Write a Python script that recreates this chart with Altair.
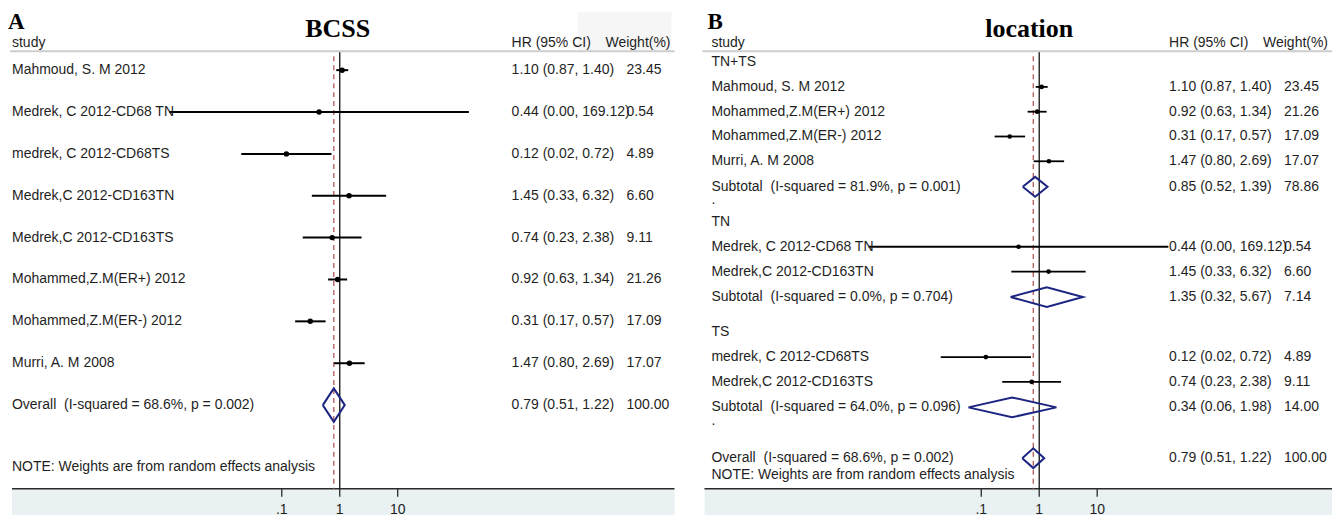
import altair as alt
import pandas as pd

# ---- study-level hazard ratios (BCSS) ----
studies = [
    "Mahmoud, S. M 2012",
    "Medrek, C 2012-CD68 TN",
    "medrek, C 2012-CD68TS",
    "Medrek,C 2012-CD163TN",
    "Medrek,C 2012-CD163TS",
    "Mohammed,Z.M(ER+) 2012",
    "Mohammed,Z.M(ER-) 2012",
    "Murri, A. M 2008",
]
hr = [1.10, 0.44, 0.12, 1.45, 0.74, 0.92, 0.31, 1.47]
ci_low = [0.87, 0.00114, 0.02, 0.33, 0.23, 0.63, 0.17, 0.80]
ci_high = [1.40, 169.12, 0.72, 6.32, 2.38, 1.34, 0.57, 2.69]
weight = [23.45, 0.54, 4.89, 6.60, 9.11, 21.26, 17.09, 17.07]

# ---- pooled estimate ----
overall_hr, overall_low, overall_high, overall_weight = 0.79, 0.51, 1.22, 100.00
overall_i2, overall_p = 68.6, 0.002

# ---- subgroups by location ----
group_names = ["TN+TS", "TN", "TS"]
group_members = [[0, 5, 6, 7], [1, 3], [2, 4]]
sub_hr = [0.85, 1.35, 0.34]
sub_low = [0.52, 0.32, 0.06]
sub_high = [1.39, 5.67, 1.98]
sub_weight = [78.86, 7.14, 14.00]
sub_i2 = [81.9, 0.0, 64.0]
sub_p = [0.001, 0.704, 0.096]

axis_ticks = [0.1, 1, 10]
axis_labels = [".1", "1", "10"]

FONT = "Liberation Sans"
SERIF = "Liberation Serif"
INK = "#1f1f1f"
NAVY = "#1c2582"
DASH = "#b45858"
BAND = "#e9f1f3"
NB = "\u00a0"
H = 515


def ci_text(e, l, u):
    return f"{e:.2f} ({l:.2f}, {u:.2f})"


def het_text(name, i2, p):
    return f"{name}{NB}{NB}(I-squared = {i2:.1f}%, p = {p:.3f})"


def row_entry(r, label, kind, e=None, l=None, u=None, w=None):
    return dict(row=r, label=label, kind=kind, hr=e, lo=l, hi=u,
                est=ci_text(e, l, u) if e is not None else "",
                wt=f"{w:.2f}" if w is not None else "")


# panel A: one row per study, then the overall line
rows_a = [row_entry(i, studies[i], "study", hr[i], ci_low[i], ci_high[i], weight[i])
          for i in range(len(studies))]
rows_a.append(row_entry(len(studies), het_text("Overall", overall_i2, overall_p), "pooled",
                        overall_hr, overall_low, overall_high, overall_weight))

# panel B: grouped rows with headers, subtotals and spacer rows
rows_b = []
pos = 0.0
for g, name in enumerate(group_names):
    if g > 0:
        pos += 1.42
    rows_b.append(row_entry(pos, name, "header"))
    for i in group_members[g]:
        pos += 1.0
        rows_b.append(row_entry(pos, studies[i], "study", hr[i], ci_low[i], ci_high[i], weight[i]))
    pos += 1.03
    rows_b.append(row_entry(pos, het_text("Subtotal", sub_i2[g], sub_p[g]), "pooled",
                            sub_hr[g], sub_low[g], sub_high[g], sub_weight[g]))
    if g != 1:
        rows_b.append(row_entry(pos + 0.55, ".", "spacer"))
pos += 2.05
rows_b.append(row_entry(pos, het_text("Overall", overall_i2, overall_p), "pooled",
                        overall_hr, overall_low, overall_high, overall_weight))


def diamonds(rows, half):
    pts = []
    for k, r in enumerate(rows):
        if r["kind"] != "pooled":
            continue
        verts = [(r["lo"], r["row"]), (r["hr"], r["row"] - half), (r["hi"], r["row"]),
                 (r["hr"], r["row"] + half), (r["lo"], r["row"])]
        for o, (vx, vy) in enumerate(verts):
            pts.append(dict(id=k, ord=o, x=vx, y=vy))
    return pd.DataFrame(pts)


def panel(rows, *, width, letter, title, title_x, fs, row0_px, row_px,
          val_x, wt_x, wt_head_x, note_y, dot, ci_w, band_x0, shade=None):
    null_px, per_dec = 340.0, 58.0
    xs = alt.Scale(type="log", domain=[10 ** (-null_px / per_dec), 10 ** ((width - null_px) / per_dec)],
                   nice=False)
    ys = alt.Scale(domain=[-row0_px / row_px, (H - row0_px) / row_px], reverse=True,
                   nice=False, zero=False)
    df = pd.DataFrame(rows)
    st = df[df.kind == "study"]
    dia = diamonds(rows, 0.4)
    Y = alt.Y("row:Q", scale=ys, axis=None)

    one = pd.DataFrame({"k": [0]})
    base = alt.Chart(one)

    layers = []
    if shade is not None:
        layers.append(base.mark_rect(color="#f6f6f6").encode(
            x=alt.value(shade[0]), x2=alt.value(shade[1]), y=alt.value(12), y2=alt.value(50)))
    band = base.mark_rect(color=BAND).encode(
        x=alt.value(band_x0), x2=alt.value(width), y=alt.value(489), y2=alt.value(H + 5))
    head_rule = base.mark_rule(color="#cdcdcd", strokeWidth=2).encode(
        x=alt.value(band_x0 - 2), x2=alt.value(width), y=alt.value(51))
    axis_line = base.mark_rule(color="#2a2a2a", strokeWidth=1.5).encode(
        x=alt.value(band_x0), x2=alt.value(width), y=alt.value(489))

    null_line = alt.Chart(pd.DataFrame({"v": [1.0]})).mark_rule(
        color="#111111", strokeWidth=1.3).encode(
        x=alt.X("v:Q", scale=xs, axis=None), y=alt.value(52), y2=alt.value(489))
    est_line = alt.Chart(pd.DataFrame({"v": [overall_hr]})).mark_rule(
        color=DASH, strokeWidth=1.3, strokeDash=[5, 4]).encode(
        x=alt.X("v:Q", scale=xs, axis=None), y=alt.value(56), y2=alt.value(489))

    tdf = pd.DataFrame({"v": axis_ticks, "t": axis_labels})
    ticks = alt.Chart(tdf).mark_rule(color="#2a2a2a", strokeWidth=1.3).encode(
        x=alt.X("v:Q", scale=xs, axis=None), y=alt.value(489), y2=alt.value(497))
    tick_txt = alt.Chart(tdf).mark_text(font=FONT, fontSize=14, color=INK, baseline="top").encode(
        x=alt.X("v:Q", scale=xs, axis=None), y=alt.value(503), text="t:N")

    ci = alt.Chart(st).mark_rule(color="#000000", strokeWidth=ci_w).encode(
        x=alt.X("lo:Q", scale=xs, axis=None), x2="hi:Q", y=Y)
    pts = alt.Chart(st).mark_circle(color="#000000", opacity=1, size=dot).encode(
        x=alt.X("hr:Q", scale=xs, axis=None), y=Y)
    dia_line = alt.Chart(dia).mark_line(color=NAVY, strokeWidth=2, strokeJoin="miter").encode(
        x=alt.X("x:Q", scale=xs, axis=None), y=alt.Y("y:Q", scale=ys, axis=None),
        detail="id:N", order="ord:Q")

    def col(field, xpos):
        return alt.Chart(df).mark_text(font=FONT, fontSize=fs, color=INK, align="left",
                                       baseline="middle").encode(
            x=alt.value(xpos), y=Y, text=f"{field}:N")

    hdr = [("study", 12), ("HR (95% CI)", val_x), ("Weight(%)", wt_head_x)]
    headers = [base.mark_text(font=FONT, fontSize=fs, color=INK, align="left",
                              baseline="middle", text=t).encode(x=alt.value(xx), y=alt.value(43))
               for t, xx in hdr]

    letter_mk = base.mark_text(font=SERIF, fontSize=23, fontWeight="bold", color="#000000",
                               align="left", baseline="alphabetic", text=letter).encode(
        x=alt.value(8), y=alt.value(29))
    title_mk = base.mark_text(font=SERIF, fontSize=26, fontWeight="bold", color="#000000",
                              align="center", baseline="alphabetic", text=title).encode(
        x=alt.value(title_x), y=alt.value(37))
    note = base.mark_text(font=FONT, fontSize=fs, color=INK, align="left", baseline="middle",
                          text="NOTE: Weights are from random effects analysis").encode(
        x=alt.value(12), y=alt.value(note_y))

    layers += [band, head_rule, axis_line, null_line, est_line, ticks, tick_txt,
               ci, dia_line, pts, col("label", 12), col("est", val_x), col("wt", wt_x),
               *headers, letter_mk, title_mk, note]
    return alt.layer(*layers).properties(width=width, height=H)


panel_a = panel(rows_a, width=675, letter="A", title="BCSS", title_x=338, fs=14,
                row0_px=70, row_px=41.9, val_x=512, wt_x=627, wt_head_x=606,
                note_y=467, dot=30, ci_w=2, band_x0=12, shade=(578, 672))
panel_b = panel(rows_b, width=633, letter="B", title="location", title_x=330, fs=14,
                row0_px=62, row_px=24.8, val_x=470, wt_x=585, wt_head_x=564,
                note_y=475, dot=22, ci_w=1.8, band_x0=5)

chart = alt.hconcat(panel_a, panel_b, spacing=25, bounds="flush").configure_view(
    stroke=None).properties(padding=0, background="white")

chart.save("out.html", embed_options={"renderer": "svg", "actions": False})
